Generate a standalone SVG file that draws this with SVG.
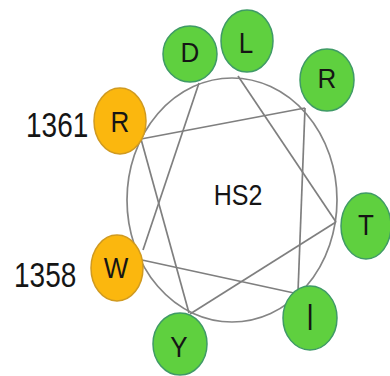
<svg xmlns="http://www.w3.org/2000/svg" width="390" height="376" viewBox="0 0 390 376">
  <style>
    .wheel { fill: none; stroke: #858585; stroke-width: 1.7; }
    .link { stroke: #7f7f7f; stroke-width: 1.7; fill: none; }
    .green { fill: #5fd03f; stroke: #3f9a66; stroke-width: 1.5; }
    .orange { fill: #fbb70e; stroke: #d09a20; stroke-width: 1.5; }
    .res { font-family: "Liberation Sans", "Open Sans", sans-serif; font-size: 26px; fill: #151515; text-anchor: middle; }
    .num { font-family: "Liberation Sans", "Open Sans", sans-serif; font-size: 28px; fill: #151515; text-anchor: start; }
    .title { font-family: "Liberation Sans", "Open Sans", sans-serif; font-size: 25px; fill: #151515; text-anchor: middle; }
  </style>
  <rect width="390" height="376" fill="#ffffff"/>

  <!-- helix outline -->
  <ellipse class="wheel" cx="232" cy="200" rx="105" ry="122"/>

  <!-- residue-to-residue connections -->
  <g id="connectors">
    <line class="link" x1="238" y1="76" x2="336" y2="222"/>
    <line class="link" x1="336" y1="222" x2="190" y2="314"/>
    <line class="link" x1="189" y1="313" x2="141" y2="139"/>
    <line class="link" x1="141" y1="139" x2="305" y2="108"/>
    <line class="link" x1="305" y1="108" x2="298" y2="292"/>
    <line class="link" x1="294" y1="293" x2="142" y2="260"/>
    <line class="link" x1="143" y1="250" x2="199" y2="83"/>
  </g>

  <text class="title" transform="translate(238 205) scale(1 1.18)">HS2</text>

  <g id="node-D">
    <ellipse class="green" cx="190" cy="54" rx="27" ry="28"/>
    <text class="res" transform="translate(190 62) scale(1 1.05)">D</text>
  </g>
  <g id="node-L">
    <ellipse class="green" cx="247" cy="41" rx="26" ry="31"/>
    <text class="res" transform="translate(246 53) scale(1 1.1)">L</text>
  </g>
  <g id="node-R-top">
    <ellipse class="green" cx="327" cy="80" rx="27" ry="31"/>
    <text class="res" transform="translate(327 88) scale(1 1.05)">R</text>
  </g>
  <g id="node-T">
    <ellipse class="green" cx="366" cy="226" rx="25" ry="33"/>
    <text class="res" transform="translate(366 235) scale(1 1.15)">T</text>
  </g>
  <g id="node-I">
    <ellipse class="green" cx="310" cy="318" rx="27" ry="32"/>
    <text class="res" transform="translate(310 330) scale(1 1.45)">I</text>
  </g>
  <g id="node-Y">
    <ellipse class="green" cx="180" cy="344" rx="27" ry="31"/>
    <text class="res" transform="translate(179 357) scale(1 1.1)">Y</text>
  </g>
  <g id="node-W">
    <ellipse class="orange" cx="117" cy="268" rx="26" ry="33"/>
    <text class="res" transform="translate(116 278) scale(1 1.1)">W</text>
  </g>
  <g id="node-R-1361">
    <ellipse class="orange" cx="120" cy="121" rx="26" ry="33"/>
    <text class="res" transform="translate(120 132) scale(1 1.1)">R</text>
  </g>

  <text class="num" transform="translate(26 137) scale(1 1.25)">1361</text>
  <text class="num" transform="translate(14 287) scale(1 1.25)">1358</text>
</svg>
